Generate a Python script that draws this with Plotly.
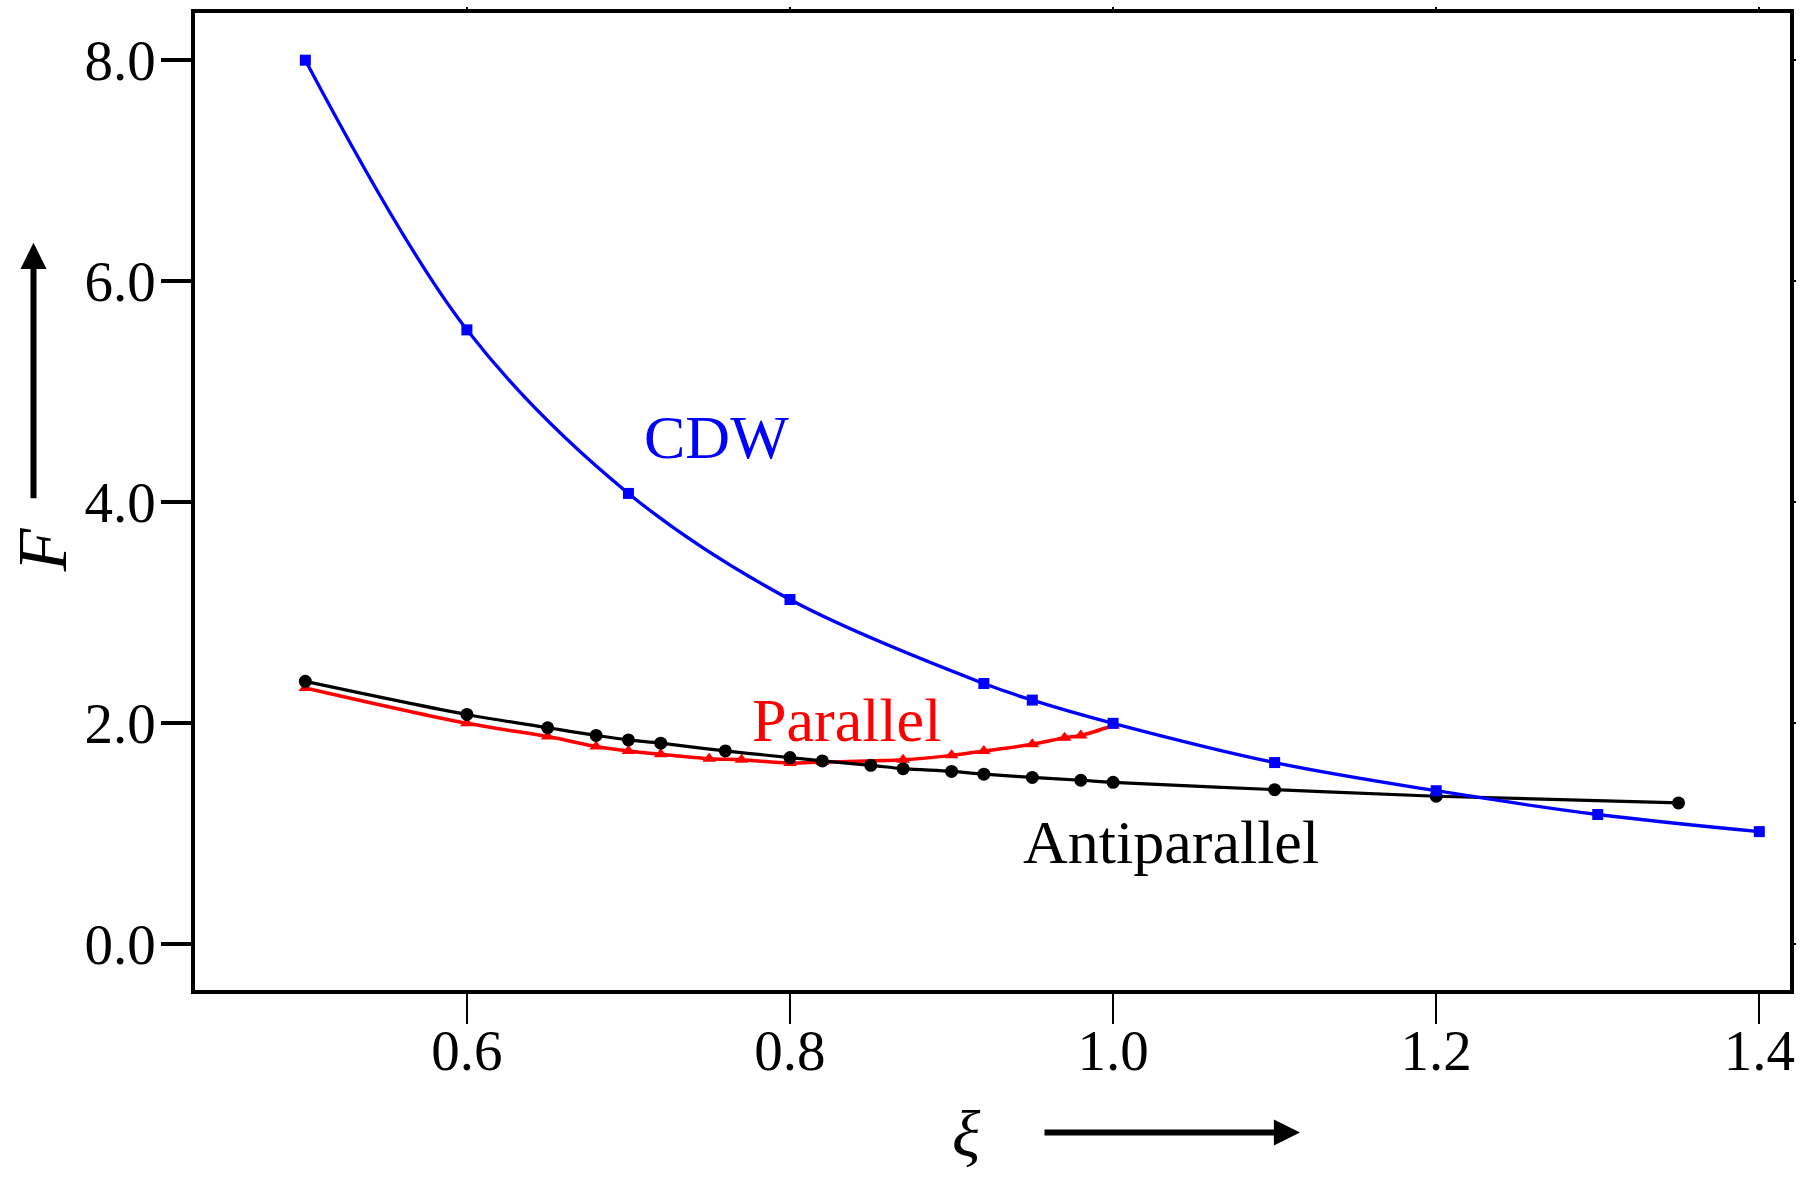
import plotly.graph_objects as go

# ---- data ----
cdw_x = [0.5, 0.6, 0.7, 0.8, 0.92, 0.95, 1.0, 1.1, 1.2, 1.3, 1.4]
cdw_y = [8.00, 5.56, 4.08, 3.12, 2.36, 2.21, 2.00, 1.645, 1.39, 1.175, 1.02]

par_x = [0.5, 0.6, 0.65, 0.68, 0.70, 0.72, 0.75, 0.77, 0.80, 0.82, 0.87, 0.90, 0.92, 0.95, 0.97, 0.98, 1.0]
par_y = [2.32, 2.00, 1.88, 1.79, 1.75, 1.72, 1.68, 1.67, 1.64, 1.65, 1.67, 1.71, 1.75, 1.81, 1.87, 1.89, 1.98]

anti_x = [0.5, 0.6, 0.65, 0.68, 0.70, 0.72, 0.76, 0.80, 0.82, 0.85, 0.87, 0.90, 0.92, 0.95, 0.98, 1.0, 1.1, 1.2, 1.35]
anti_y = [2.38, 2.08, 1.96, 1.89, 1.85, 1.82, 1.75, 1.69, 1.66, 1.62, 1.59, 1.565, 1.54, 1.51, 1.485, 1.466, 1.40, 1.34, 1.28]

x_ticks = [0.6, 0.8, 1.0, 1.2, 1.4]
x_tick_text = ["0.6", "0.8", "1.0", "1.2", "1.4"]
y_ticks = [0.0, 2.0, 4.0, 6.0, 8.0]
y_tick_text = ["0.0", "2.0", "4.0", "6.0", "8.0"]

labels = [
    {"text": "CDW", "x": 0.7548, "y": 4.59, "color": "#0000ff"},
    {"text": "Parallel", "x": 0.8349, "y": 2.03, "color": "#ff0000"},
    {"text": "Antiparallel", "x": 1.0356, "y": 0.93, "color": "#000000"},
]

FONT = "Liberation Serif"
W, H = 1803, 1177
ML, MR, MT, MB = 195, 13, 8, 187
PW, PH = W - ML - MR, H - MT - MB
X_RANGE = [0.4317, 1.419]
Y_RANGE = [-0.413, 8.427]


def px(xp):
    return (xp - ML) / PW


def py(yp):
    return (H - MB - yp) / PH


fig = go.Figure()

fig.add_trace(go.Scatter(
    x=par_x, y=par_y, mode="lines+markers", line_shape="spline",
    line=dict(color="#ff0000", width=3.5),
    marker=dict(symbol="triangle-up", size=12, color="#ff0000"),
    showlegend=False))
fig.add_trace(go.Scatter(
    x=anti_x, y=anti_y, mode="lines+markers", line_shape="spline",
    line=dict(color="#000000", width=3.2),
    marker=dict(symbol="circle", size=13, color="#000000"),
    showlegend=False))
fig.add_trace(go.Scatter(
    x=cdw_x, y=cdw_y, mode="lines+markers", line_shape="spline",
    line=dict(color="#0000ff", width=3.3),
    marker=dict(symbol="square", size=11, color="#0000ff"),
    showlegend=False))

# invisible trace to activate mirror axes with short ticks
fig.add_trace(go.Scatter(x=[None], y=[None], xaxis="x2", yaxis="y2", showlegend=False))

for lab in labels:
    fig.add_annotation(x=lab["x"], y=lab["y"], xref="x", yref="y", text=lab["text"],
                       showarrow=False, xanchor="center", yanchor="middle",
                       font=dict(family=FONT, size=62, color=lab["color"]))

# axis titles with arrows
fig.add_annotation(x=px(42), y=py(548), xref="paper", yref="paper", text="<i>F</i>",
                   showarrow=False, textangle=-90, xanchor="center", yanchor="middle",
                   font=dict(family=FONT, size=70, color="black"))
fig.add_annotation(x=px(33.5), y=py(239), xref="paper", yref="paper", text="",
                   showarrow=True, arrowhead=2, arrowwidth=6, arrowsize=0.87,
                   arrowcolor="black", ax=0, ay=257)
fig.add_annotation(x=px(966.7), y=py(1134), xref="paper", yref="paper", text="<i>ξ</i>",
                   showarrow=False, xanchor="center", yanchor="middle",
                   font=dict(family=FONT, size=66, color="black"))
fig.add_annotation(x=px(1300), y=py(1133.3), xref="paper", yref="paper", text="",
                   showarrow=True, arrowhead=2, arrowwidth=6, arrowsize=0.87,
                   arrowcolor="black", ax=-257, ay=0)

fig.update_layout(
    width=W, height=H,
    margin=dict(l=ML, r=MR, t=MT, b=MB),
    paper_bgcolor="white", plot_bgcolor="white",
    font=dict(family=FONT, size=57, color="black"),
    xaxis=dict(range=X_RANGE, tickvals=x_ticks, ticktext=x_tick_text,
               ticks="outside", ticklen=30, tickwidth=2, tickcolor="black",
               showline=True, linewidth=3.5, linecolor="black", mirror=True,
               showgrid=False, zeroline=False,
               tickfont=dict(family=FONT, size=57, color="black")),
    yaxis=dict(range=Y_RANGE, tickvals=y_ticks, ticktext=y_tick_text,
               ticks="outside", ticklen=30, tickwidth=4, tickcolor="black",
               showline=True, linewidth=3.5, linecolor="black", mirror=True,
               showgrid=False, zeroline=False,
               tickfont=dict(family=FONT, size=57, color="black")),
    xaxis2=dict(range=X_RANGE, overlaying="x", side="top", tickvals=x_ticks,
                showticklabels=False, ticks="outside", ticklen=5, tickwidth=2,
                tickcolor="black", showgrid=False, zeroline=False, showline=False),
    yaxis2=dict(range=Y_RANGE, overlaying="y", side="right", tickvals=y_ticks,
                showticklabels=False, ticks="outside", ticklen=5, tickwidth=2,
                tickcolor="black", showgrid=False, zeroline=False, showline=False),
)

try:
    fig.update_layout(xaxis_ticklabelstandoff=-22, yaxis_ticklabelstandoff=-6)
except Exception:
    pass

fig.write_html("out.html")
